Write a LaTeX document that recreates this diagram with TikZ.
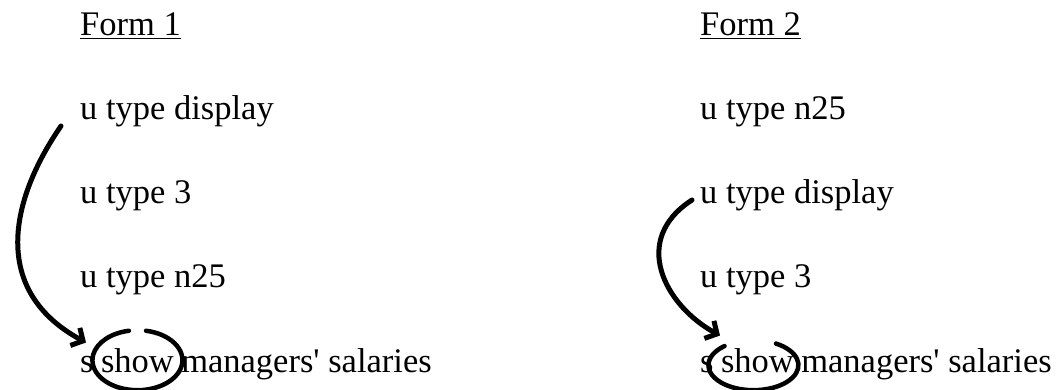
\documentclass[tikz,border=0pt]{standalone}
\usepackage{fontspec}
\setmainfont{Liberation Serif}
\usetikzlibrary{positioning,arrows.meta}

\begin{document}
\begin{tikzpicture}[x=1pt, y=-1pt,
        txt/.style={font=\fontsize{34.5}{40}\selectfont, inner sep=0pt, anchor=base west},
        arr/.style={-{Straight Barb[length=9pt,width=20pt]}, line width=5pt, line cap=round},
        ring/.style={line width=4.5pt, line cap=round},
    ]
    \useasboundingbox (0,0) rectangle (1061,390);

    % Form 1
    \node[txt] (form1) at (80,36) {\underline{Form 1}};
    \node[txt] (ldisp) at (80,120) {u type display};
    \node[txt] (lthree) at (80,204) {u type 3};
    \node[txt] (ln25) at (80,288) {u type n25};
    \node[txt] (ls) at (80,372) {s};
    \node[txt, right=7pt of ls.base east, anchor=base west] (lshow) {show};
    \node[txt, right=7pt of lshow.base east, anchor=base west] (lmgr) {managers\textquotesingle{} salaries};

    % Form 2
    \node[txt] (form2) at (700,36) {\underline{Form 2}};
    \node[txt] (rn25) at (700,120) {u type n25};
    \node[txt] (rdisp) at (700,204) {u type display};
    \node[txt] (rthree) at (700,288) {u type 3};
    \node[txt] (rs) at (700,372) {s};
    \node[txt, right=7pt of rs.base east, anchor=base west] (rshow) {show};
    \node[txt, right=7pt of rshow.base east, anchor=base west] (rmgr) {managers\textquotesingle{} salaries};

    % moved commands
    \draw[arr] ([xshift=-19pt,yshift=-6pt]ldisp.base west)
        .. controls +(-51,74) and +(-96,-52) .. ([xshift=6pt,yshift=13pt]ls.north west);
    \draw[arr] ([xshift=-8pt,yshift=4pt]rdisp.base west)
        .. controls +(-62,40) and +(-55,-30) .. ([xshift=20pt,yshift=20pt]rs.north west);

    % circled words
    \draw[ring] (lshow.center) ++(281:45 and 30) arc[start angle=281, end angle=619, x radius=45, y radius=30];
    \draw[ring] (rshow.center) ++(-4,5) ++(300:45 and 25) arc[start angle=300, end angle=590, x radius=45, y radius=25];
\end{tikzpicture}
\end{document}
